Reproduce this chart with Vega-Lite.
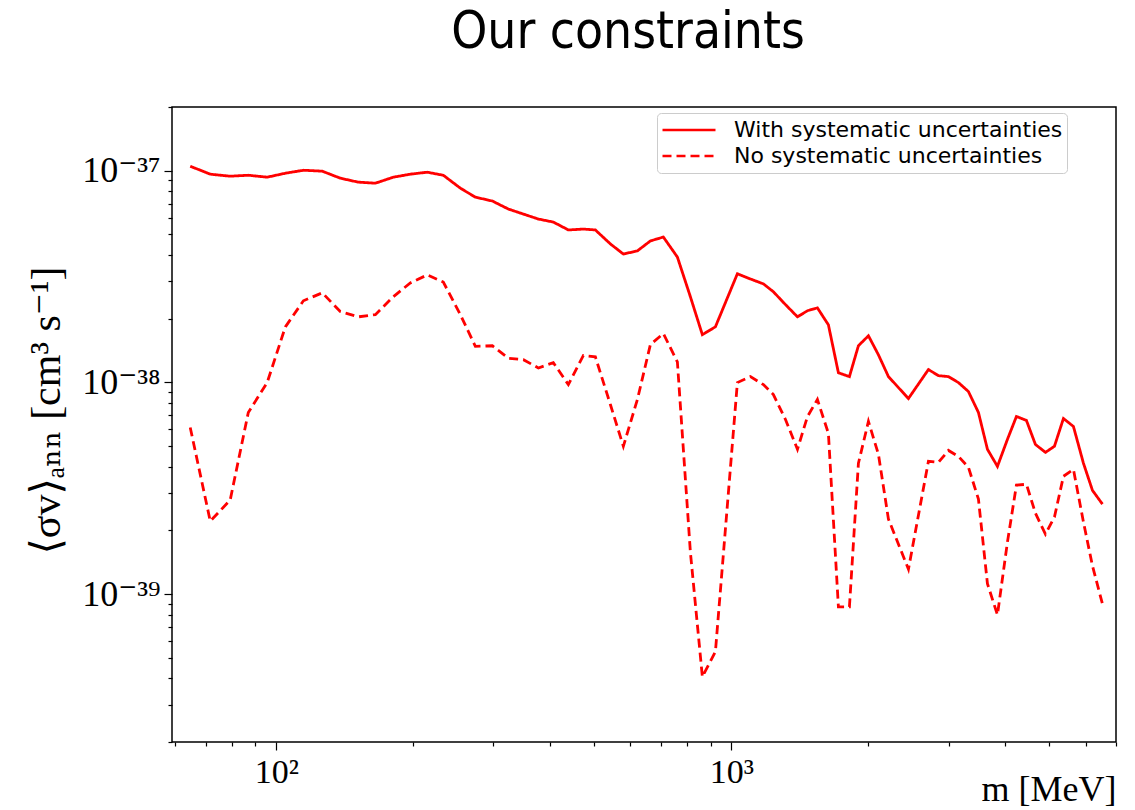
{
  "$schema": "https://vega.github.io/schema/vega-lite/v6.json",
  "width": 944,
  "height": 635,
  "autosize": {"type": "none"},
  "padding": {"left": 172, "top": 107, "right": 19, "bottom": 68},
  "background": "white",
  "title": {
    "text": "Our constraints",
    "font": "DejaVu Sans Condensed, DejaVu Sans",
    "fontSize": 51,
    "fontWeight": "normal",
    "color": "black",
    "anchor": "middle",
    "frame": "group",
    "baseline": "bottom",
    "offset": 46,
    "dx": -16,
    "dy": 67
  },
  "config": {
    "view": {"stroke": "black", "strokeWidth": 1.5},
    "axis": {"domain": false, "grid": false}
  },
  "data": {
    "values": [
      {"m": 64.7, "with": 1.05e-37, "no": 6.12e-39},
      {"m": 71.6, "with": 9.63e-38, "no": 2.21e-39},
      {"m": 79.2, "with": 9.42e-38, "no": 2.78e-39},
      {"m": 86.8, "with": 9.52e-38, "no": 7.21e-39},
      {"m": 95.5, "with": 9.32e-38, "no": 9.98e-39},
      {"m": 104.7, "with": 9.73e-38, "no": 1.83e-38},
      {"m": 114.7, "with": 1.005e-37, "no": 2.43e-38},
      {"m": 126.2, "with": 9.95e-38, "no": 2.65e-38},
      {"m": 138.2, "with": 9.22e-38, "no": 2.16e-38},
      {"m": 151.4, "with": 8.83e-38, "no": 2.04e-38},
      {"m": 165.1, "with": 8.73e-38, "no": 2.09e-38},
      {"m": 180.8, "with": 9.32e-38, "no": 2.54e-38},
      {"m": 197.0, "with": 9.63e-38, "no": 2.95e-38},
      {"m": 214.7, "with": 9.84e-38, "no": 3.22e-38},
      {"m": 232.8, "with": 9.52e-38, "no": 2.98e-38},
      {"m": 253.8, "with": 8.27e-38, "no": 2.09e-38},
      {"m": 273.8, "with": 7.50e-38, "no": 1.48e-38},
      {"m": 298.4, "with": 7.19e-38, "no": 1.49e-38},
      {"m": 323.6, "with": 6.59e-38, "no": 1.30e-38},
      {"m": 349.1, "with": 6.24e-38, "no": 1.28e-38},
      {"m": 376.6, "with": 5.91e-38, "no": 1.17e-38},
      {"m": 406.2, "with": 5.72e-38, "no": 1.24e-38},
      {"m": 438.3, "with": 5.25e-38, "no": 9.76e-39},
      {"m": 472.9, "with": 5.30e-38, "no": 1.34e-38},
      {"m": 502.5, "with": 5.25e-38, "no": 1.32e-38},
      {"m": 542.1, "with": 4.51e-38, "no": 7.86e-39},
      {"m": 578.9, "with": 4.04e-38, "no": 4.99e-39},
      {"m": 621.5, "with": 4.18e-38, "no": 8.30e-39},
      {"m": 663.8, "with": 4.66e-38, "no": 1.51e-38},
      {"m": 708.8, "with": 4.86e-38, "no": 1.70e-38},
      {"m": 760.9, "with": 3.91e-38, "no": 1.25e-38},
      {"m": 812.6, "with": 2.54e-38, "no": 1.58e-39},
      {"m": 863.4, "with": 1.68e-38, "no": 4.07e-40},
      {"m": 922.3, "with": 1.83e-38, "no": 5.34e-40},
      {"m": 1030.8, "with": 3.26e-38, "no": 9.98e-39},
      {"m": 1101.0, "with": 3.08e-38, "no": 1.065e-38},
      {"m": 1175.8, "with": 2.92e-38, "no": 9.76e-39},
      {"m": 1236.8, "with": 2.68e-38, "no": 8.76e-39},
      {"m": 1314.8, "with": 2.33e-38, "no": 6.68e-39},
      {"m": 1396.9, "with": 2.04e-38, "no": 4.83e-39},
      {"m": 1469.4, "with": 2.18e-38, "no": 6.90e-39},
      {"m": 1545.2, "with": 2.25e-38, "no": 8.30e-39},
      {"m": 1633.7, "with": 1.87e-38, "no": 5.74e-39},
      {"m": 1718.5, "with": 1.11e-38, "no": 8.69e-40},
      {"m": 1816.9, "with": 1.065e-38, "no": 8.69e-40},
      {"m": 1901.6, "with": 1.49e-38, "no": 4.15e-39},
      {"m": 2000.4, "with": 1.66e-38, "no": 6.54e-39},
      {"m": 2104.2, "with": 1.35e-38, "no": 4.57e-39},
      {"m": 2213.4, "with": 1.065e-38, "no": 2.26e-39},
      {"m": 2449.2, "with": 8.39e-39, "no": 1.31e-39},
      {"m": 2709.9, "with": 1.15e-38, "no": 4.24e-39},
      {"m": 2850.6, "with": 1.076e-38, "no": 4.19e-39},
      {"m": 2998.5, "with": 1.065e-38, "no": 4.77e-39},
      {"m": 3154.1, "with": 9.98e-39, "no": 4.47e-39},
      {"m": 3317.8, "with": 9.05e-39, "no": 3.97e-39},
      {"m": 3490.0, "with": 7.21e-39, "no": 2.81e-39},
      {"m": 3652.6, "with": 4.83e-39, "no": 1.12e-39},
      {"m": 3842.2, "with": 4.01e-39, "no": 7.97e-40},
      {"m": 4041.6, "with": 5.38e-39, "no": 1.76e-39},
      {"m": 4229.8, "with": 6.90e-39, "no": 3.27e-39},
      {"m": 4449.4, "with": 6.61e-39, "no": 3.30e-39},
      {"m": 4656.7, "with": 5.09e-39, "no": 2.41e-39},
      {"m": 4898.4, "with": 4.67e-39, "no": 1.92e-39},
      {"m": 5126.6, "with": 4.99e-39, "no": 2.31e-39},
      {"m": 5365.4, "with": 6.75e-39, "no": 3.60e-39},
      {"m": 5643.9, "with": 6.19e-39, "no": 3.88e-39},
      {"m": 5936.9, "with": 4.15e-39, "no": 2.19e-39},
      {"m": 6213.5, "with": 3.09e-39, "no": 1.36e-39},
      {"m": 6535.9, "with": 2.66e-39, "no": 8.98e-40}
    ]
  },
  "transform": [{"fold": ["with", "no"], "as": ["series", "v"]}],
  "mark": {"type": "line", "color": "red", "strokeWidth": 2.8, "clip": true},
  "encoding": {
    "x": {
      "field": "m",
      "type": "quantitative",
      "scale": {"type": "log", "domain": [59, 7000], "nice": false},
      "axis": {
        "values": [60, 70, 80, 90, 100, 200, 300, 400, 500, 600, 700, 800, 900, 1000, 2000, 3000, 4000, 5000, 6000, 7000],
        "labelExpr": "datum.value == 100 ? '10²' : datum.value == 1000 ? '10³' : ''",
        "tickSize": {"condition": {"test": "datum.value == 100 || datum.value == 1000", "value": 8}, "value": 4},
        "tickColor": "black",
        "tickWidth": 1.2,
        "labelFont": "Liberation Serif, DejaVu Serif",
        "labelFontSize": 34,
        "labelColor": "black",
        "labelPadding": 5,
        "labelOverlap": false,
        "labelFlush": false,
        "title": "m [MeV]",
        "titleFont": "Liberation Serif, DejaVu Serif",
        "titleFontSize": 36,
        "titleFontWeight": "normal",
        "titleColor": "black",
        "titleAnchor": "end",
        "titleAlign": "right",
        "titleBaseline": "alphabetic",
        "titleX": 944,
        "titleY": 58
      }
    },
    "y": {
      "field": "v",
      "type": "quantitative",
      "scale": {"type": "log", "domain": [2e-40, 2e-37], "nice": false},
      "axis": {
        "values": [2e-40, 3e-40, 4e-40, 5e-40, 6e-40, 7e-40, 8e-40, 9e-40, 1e-39, 2e-39, 3e-39, 4e-39, 5e-39, 6e-39, 7e-39, 8e-39, 9e-39, 1e-38, 2e-38, 3e-38, 4e-38, 5e-38, 6e-38, 7e-38, 8e-38, 9e-38, 1e-37, 2e-37],
        "labelExpr": "datum.value == 1e-37 ? '10⁻³⁷' : datum.value == 1e-38 ? '10⁻³⁸' : datum.value == 1e-39 ? '10⁻³⁹' : ''",
        "tickSize": {"condition": {"test": "datum.value == 1e-37 || datum.value == 1e-38 || datum.value == 1e-39", "value": 8}, "value": 4},
        "tickColor": "black",
        "tickWidth": 1.2,
        "labelFont": "Liberation Serif, DejaVu Serif",
        "labelFontSize": 36,
        "labelColor": "black",
        "labelPadding": 4,
        "labelOverlap": false,
        "labelFlush": false,
        "title": "⟨σv⟩ₐₙₙ [cm³ s⁻¹]",
        "titleFont": "Liberation Serif, DejaVu Serif",
        "titleFontSize": 42,
        "titleFontWeight": "normal",
        "titleColor": "black",
        "titleAngle": -90,
        "titleAlign": "center",
        "titleBaseline": "middle",
        "titleX": -126,
        "titleY": 303
      }
    },
    "strokeDash": {
      "field": "series",
      "type": "nominal",
      "scale": {"domain": ["with", "no"], "range": [[1, 0], [9, 5]]},
      "legend": {
        "title": null,
        "orient": "none",
        "legendX": 485,
        "legendY": 6,
        "direction": "vertical",
        "labelExpr": "datum.label == 'with' ? 'With systematic uncertainties' : 'No systematic uncertainties'",
        "labelFont": "DejaVu Sans",
        "labelFontSize": 22,
        "labelColor": "black",
        "labelLimit": 600,
        "symbolType": "stroke",
        "symbolSize": 2809,
        "symbolStrokeColor": "red",
        "symbolStrokeWidth": 2.5,
        "clipHeight": 26,
        "labelOffset": 17,
        "padding": 4,
        "rowPadding": 0,
        "fillColor": "white",
        "strokeColor": "#cccccc",
        "cornerRadius": 4
      }
    }
  }
}
